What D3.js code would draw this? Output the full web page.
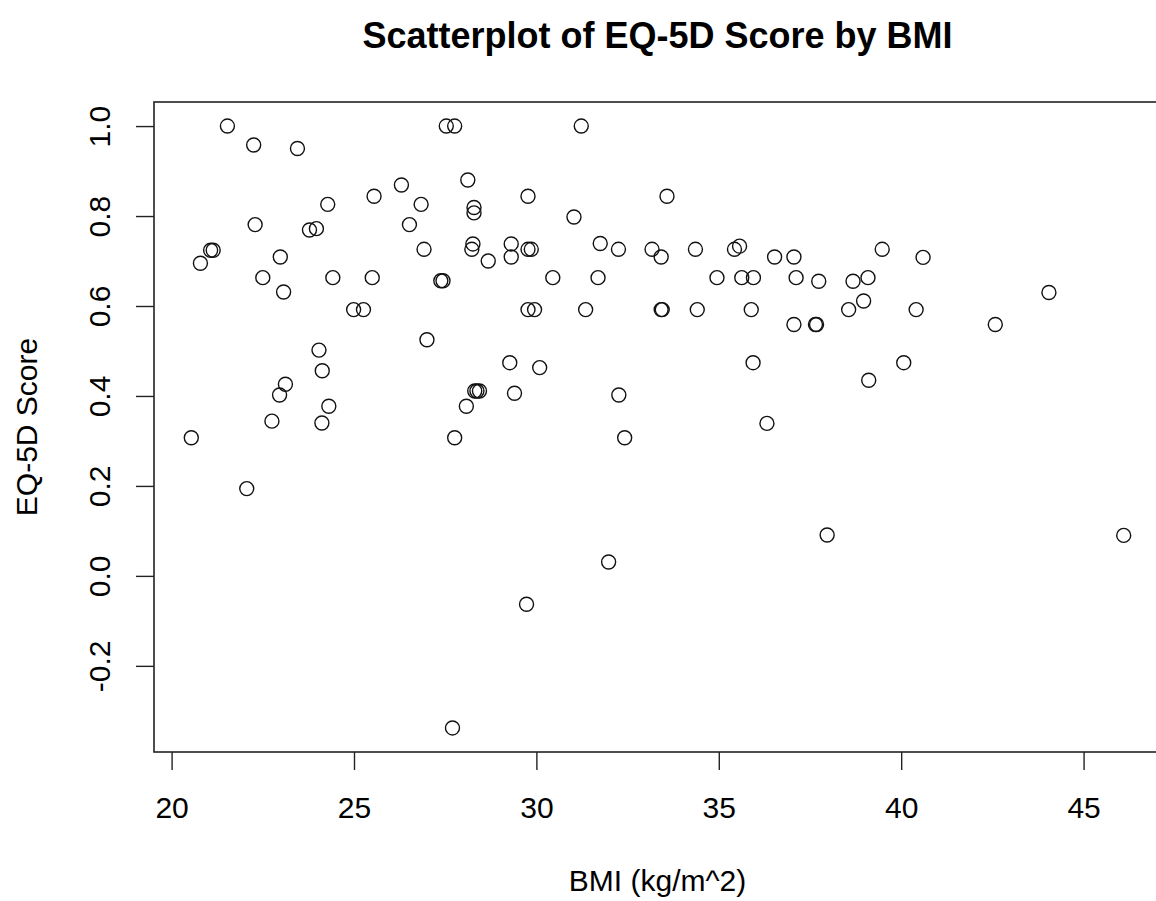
<!DOCTYPE html>
<html>
<head>
<meta charset="utf-8">
<script src="https://cdn.jsdelivr.net/npm/d3@7"></script>
<style>
  body { margin: 0; background: #fff; }
  svg text { font-family: "Liberation Sans", Arial, Helvetica, sans-serif; fill: #000; }
</style>
</head>
<body>
<svg id="chart"></svg>
<script>
// BMI (kg/m^2) for each patient
var bmi = [
    21.53, 22.25, 23.45, 27.53, 27.76, 28.12, 26.30, 25.55, 24.28, 26.84,
    28.29, 28.29, 22.29, 23.78, 23.97, 26.52, 21.07, 21.14, 20.79, 22.98,
    26.92, 28.26, 28.23, 28.68, 22.50, 24.42, 25.50, 27.38, 27.44, 23.07,
    24.99, 25.26, 24.04, 27.00, 31.23, 29.77, 33.58, 31.03, 29.31, 29.31,
    29.77, 29.86, 31.75, 32.25, 33.17, 33.42, 34.36, 35.43, 35.57, 36.53,
    37.06, 30.45, 31.69, 34.95, 35.63, 35.95, 37.12, 37.74, 29.77, 29.95,
    31.35, 33.42, 33.45, 34.41, 35.89, 37.06, 37.65, 37.68, 38.68, 39.09,
    39.48, 40.60, 38.97, 38.56, 40.41, 42.58, 44.05, 24.13, 23.12, 22.96,
    24.31, 22.75, 24.12, 20.54, 22.06, 28.31, 28.37, 28.44, 28.08, 27.76,
    29.27, 30.09, 29.40, 32.26, 32.42, 35.94, 36.32, 31.98, 37.97, 40.07,
    39.11, 46.10, 29.73, 27.70
];

// EQ-5D score, same order as bmi
var eq5d = [
    1.000, 0.958, 0.950, 1.000, 1.000, 0.880, 0.869, 0.844, 0.826, 0.826,
    0.819, 0.807, 0.781, 0.769, 0.772, 0.781, 0.724, 0.724, 0.695, 0.709,
    0.726, 0.738, 0.726, 0.700, 0.663, 0.663, 0.663, 0.656, 0.656, 0.631,
    0.592, 0.592, 0.502, 0.525, 1.000, 0.844, 0.844, 0.798, 0.738, 0.709,
    0.726, 0.726, 0.739, 0.726, 0.726, 0.709, 0.726, 0.726, 0.733, 0.709,
    0.709, 0.663, 0.663, 0.663, 0.663, 0.663, 0.663, 0.655, 0.592, 0.592,
    0.592, 0.592, 0.592, 0.592, 0.592, 0.559, 0.559, 0.559, 0.655, 0.663,
    0.726, 0.708, 0.611, 0.592, 0.592, 0.559, 0.630, 0.456, 0.426, 0.402,
    0.377, 0.344, 0.340, 0.307, 0.194, 0.411, 0.411, 0.411, 0.377, 0.307,
    0.474, 0.463, 0.406, 0.402, 0.307, 0.474, 0.339, 0.031, 0.091, 0.474,
    0.435, 0.090, -0.063, -0.338
];

var xTicks = [20, 25, 30, 35, 40, 45];
var yTicks = [-0.2, 0.0, 0.2, 0.4, 0.6, 0.8, 1.0];

var width = 1156, height = 901;

var svg = d3.select("#chart")
    .attr("width", width)
    .attr("height", height);

svg.append("rect").attr("width", width).attr("height", height).attr("fill", "#fff");

// R style limits: data range + 4% on each side
function padded(ext) {
    var d = (ext[1] - ext[0]) * 0.04;
    return [ext[0] - d, ext[1] + d];
}

var plot = { left: 154, right: 1161, top: 102, bottom: 752 };

var x = d3.scaleLinear()
    .domain(padded(d3.extent(bmi)))
    .range([plot.left, plot.right]);

var y = d3.scaleLinear()
    .domain(padded(d3.extent(eq5d)))
    .range([plot.bottom, plot.top]);

var points = bmi.map(function(b, i) { return { bmi: b, score: eq5d[i] }; });

// x axis
var gx = svg.append("g")
    .attr("transform", "translate(0," + plot.bottom + ")")
    .call(d3.axisBottom(x).tickValues(xTicks).tickSize(18).tickPadding(27)
        .tickFormat(d => String(d)));
gx.select(".domain").remove();
gx.selectAll(".tick line").attr("stroke", "#222").attr("stroke-width", 1.4);
gx.selectAll(".tick text").style("font-size", "30px");

// y axis, labels turned like R's las=0 (plain hyphen for the minus)
var gy = svg.append("g")
    .attr("transform", "translate(" + plot.left + ",0)")
    .call(d3.axisLeft(y).tickValues(yTicks).tickSize(18)
        .tickFormat(d => d.toFixed(1)));
gy.select(".domain").remove();
gy.selectAll(".tick line").attr("stroke", "#222").attr("stroke-width", 1.4);
gy.selectAll(".tick text")
    .style("font-size", "30px")
    .attr("x", null)
    .attr("dy", null)
    .attr("text-anchor", "middle")
    .attr("transform", "translate(-44,0) rotate(-90)");

// plot box
svg.append("rect")
    .attr("x", plot.left)
    .attr("y", plot.top)
    .attr("width", plot.right - plot.left)
    .attr("height", plot.bottom - plot.top)
    .attr("fill", "none")
    .attr("stroke", "#222")
    .attr("stroke-width", 1.6);

// points
svg.append("g").selectAll("circle")
    .data(points)
    .join("circle")
    .attr("cx", d => x(d.bmi))
    .attr("cy", d => y(d.score))
    .attr("r", 7)
    .attr("fill", "none")
    .attr("stroke", "#111")
    .attr("stroke-width", 1.4);

var midX = (plot.left + plot.right) / 2;

svg.append("text")
    .attr("x", midX).attr("y", 48)
    .attr("text-anchor", "middle")
    .style("font-size", "36px").style("font-weight", "bold")
    .text("Scatterplot of EQ-5D Score by BMI");

svg.append("text")
    .attr("x", midX).attr("y", 891)
    .attr("text-anchor", "middle")
    .style("font-size", "30px")
    .text("BMI (kg/m^2)");

svg.append("text")
    .attr("transform", "translate(37," + ((plot.top + plot.bottom) / 2) + ") rotate(-90)")
    .attr("text-anchor", "middle")
    .style("font-size", "30px")
    .text("EQ-5D Score");
</script>
</body>
</html>
